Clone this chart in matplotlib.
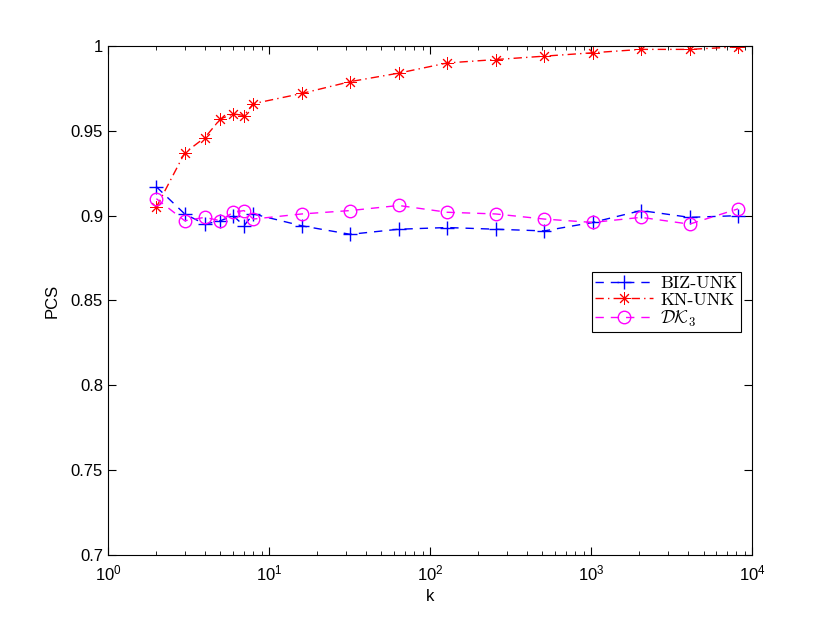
import matplotlib
matplotlib.use("Agg")
import matplotlib.pyplot as plt
from matplotlib.ticker import LogLocator, FixedLocator

k = [2, 3, 4, 5, 6, 7, 8, 16, 32, 64, 128, 256, 512, 1024, 2048, 4096, 8192]
biz_unk = [0.917, 0.901, 0.895, 0.897, 0.900, 0.894, 0.901, 0.894, 0.889, 0.892,
           0.893, 0.892, 0.891, 0.896, 0.903, 0.899, 0.900]
kn_unk = [0.905, 0.937, 0.946, 0.957, 0.960, 0.959, 0.966, 0.972, 0.979, 0.984,
          0.990, 0.992, 0.994, 0.996, 0.998, 0.998, 0.9995]
dk3 = [0.910, 0.897, 0.899, 0.897, 0.902, 0.903, 0.898, 0.901, 0.903, 0.906,
       0.902, 0.901, 0.898, 0.896, 0.899, 0.895, 0.904]
labels = ["BIZ-UNK", "KN-UNK", r"$\mathcal{D}\mathcal{K}_3$"]
yticks = [0.7, 0.75, 0.8, 0.85, 0.9, 0.95, 1.0]
ytick_labels = ["0.7", "0.75", "0.8", "0.85", "0.9", "0.95", "1"]

plt.rcParams['mathtext.fontset'] = 'cm'
plt.rcParams['font.family'] = ['Liberation Sans', 'DejaVu Sans']

fig = plt.figure(figsize=(8.3, 6.24), dpi=100)
ax = fig.add_axes([0.13, 0.1106, 0.776, 0.8157])

ax.plot(k, biz_unk, color='#0000ff', linestyle=(0, (6, 5)), linewidth=1.0,
        marker='+', markersize=10, markeredgewidth=1.0, label=labels[0])
ax.plot(k, kn_unk, color='#ff0000', linestyle=(0, (6, 3, 1, 3)), linewidth=1.0,
        marker=(8, 2, 0), markersize=9, markeredgewidth=0.7,
        label=labels[1])
ax.plot(k, dk3, color='#ff00ff', linestyle=(0, (6, 5)), linewidth=1.0,
        marker='o', markersize=9, markerfacecolor='none', markeredgewidth=1.0,
        label=labels[2])

ax.set_xscale('log')
ax.set_xlim(1, 1e4)
ax.set_ylim(0.7, 1.0)
ax.yaxis.set_major_locator(FixedLocator(yticks))
ax.set_yticklabels(ytick_labels)
ax.xaxis.set_major_locator(LogLocator(base=10, numticks=10))
ax.xaxis.set_minor_locator(LogLocator(base=10, subs=range(2, 10), numticks=20))

ax.tick_params(which='both', direction='in', top=True, right=True, labelsize=12)
ax.tick_params(axis='x', which='major', pad=6)
ax.tick_params(which='major', length=6, width=0.8)
ax.tick_params(which='minor', length=3, width=0.6)
for s in ax.spines.values():
    s.set_linewidth(0.8)

ax.set_xlabel('k', fontsize=12, labelpad=4)
ax.set_ylabel('PCS', fontsize=12, labelpad=8)

leg = ax.legend(loc='upper right', bbox_to_anchor=(0.983, 0.556),
                prop={'family': 'cmr10', 'size': 13}, frameon=True, fancybox=False,
                edgecolor='black', framealpha=1, borderpad=0.2, labelspacing=0.05,
                handlelength=3.2, handletextpad=0.4, borderaxespad=0)
leg.get_frame().set_linewidth(0.8)

fig.savefig('out.png', dpi=100)
